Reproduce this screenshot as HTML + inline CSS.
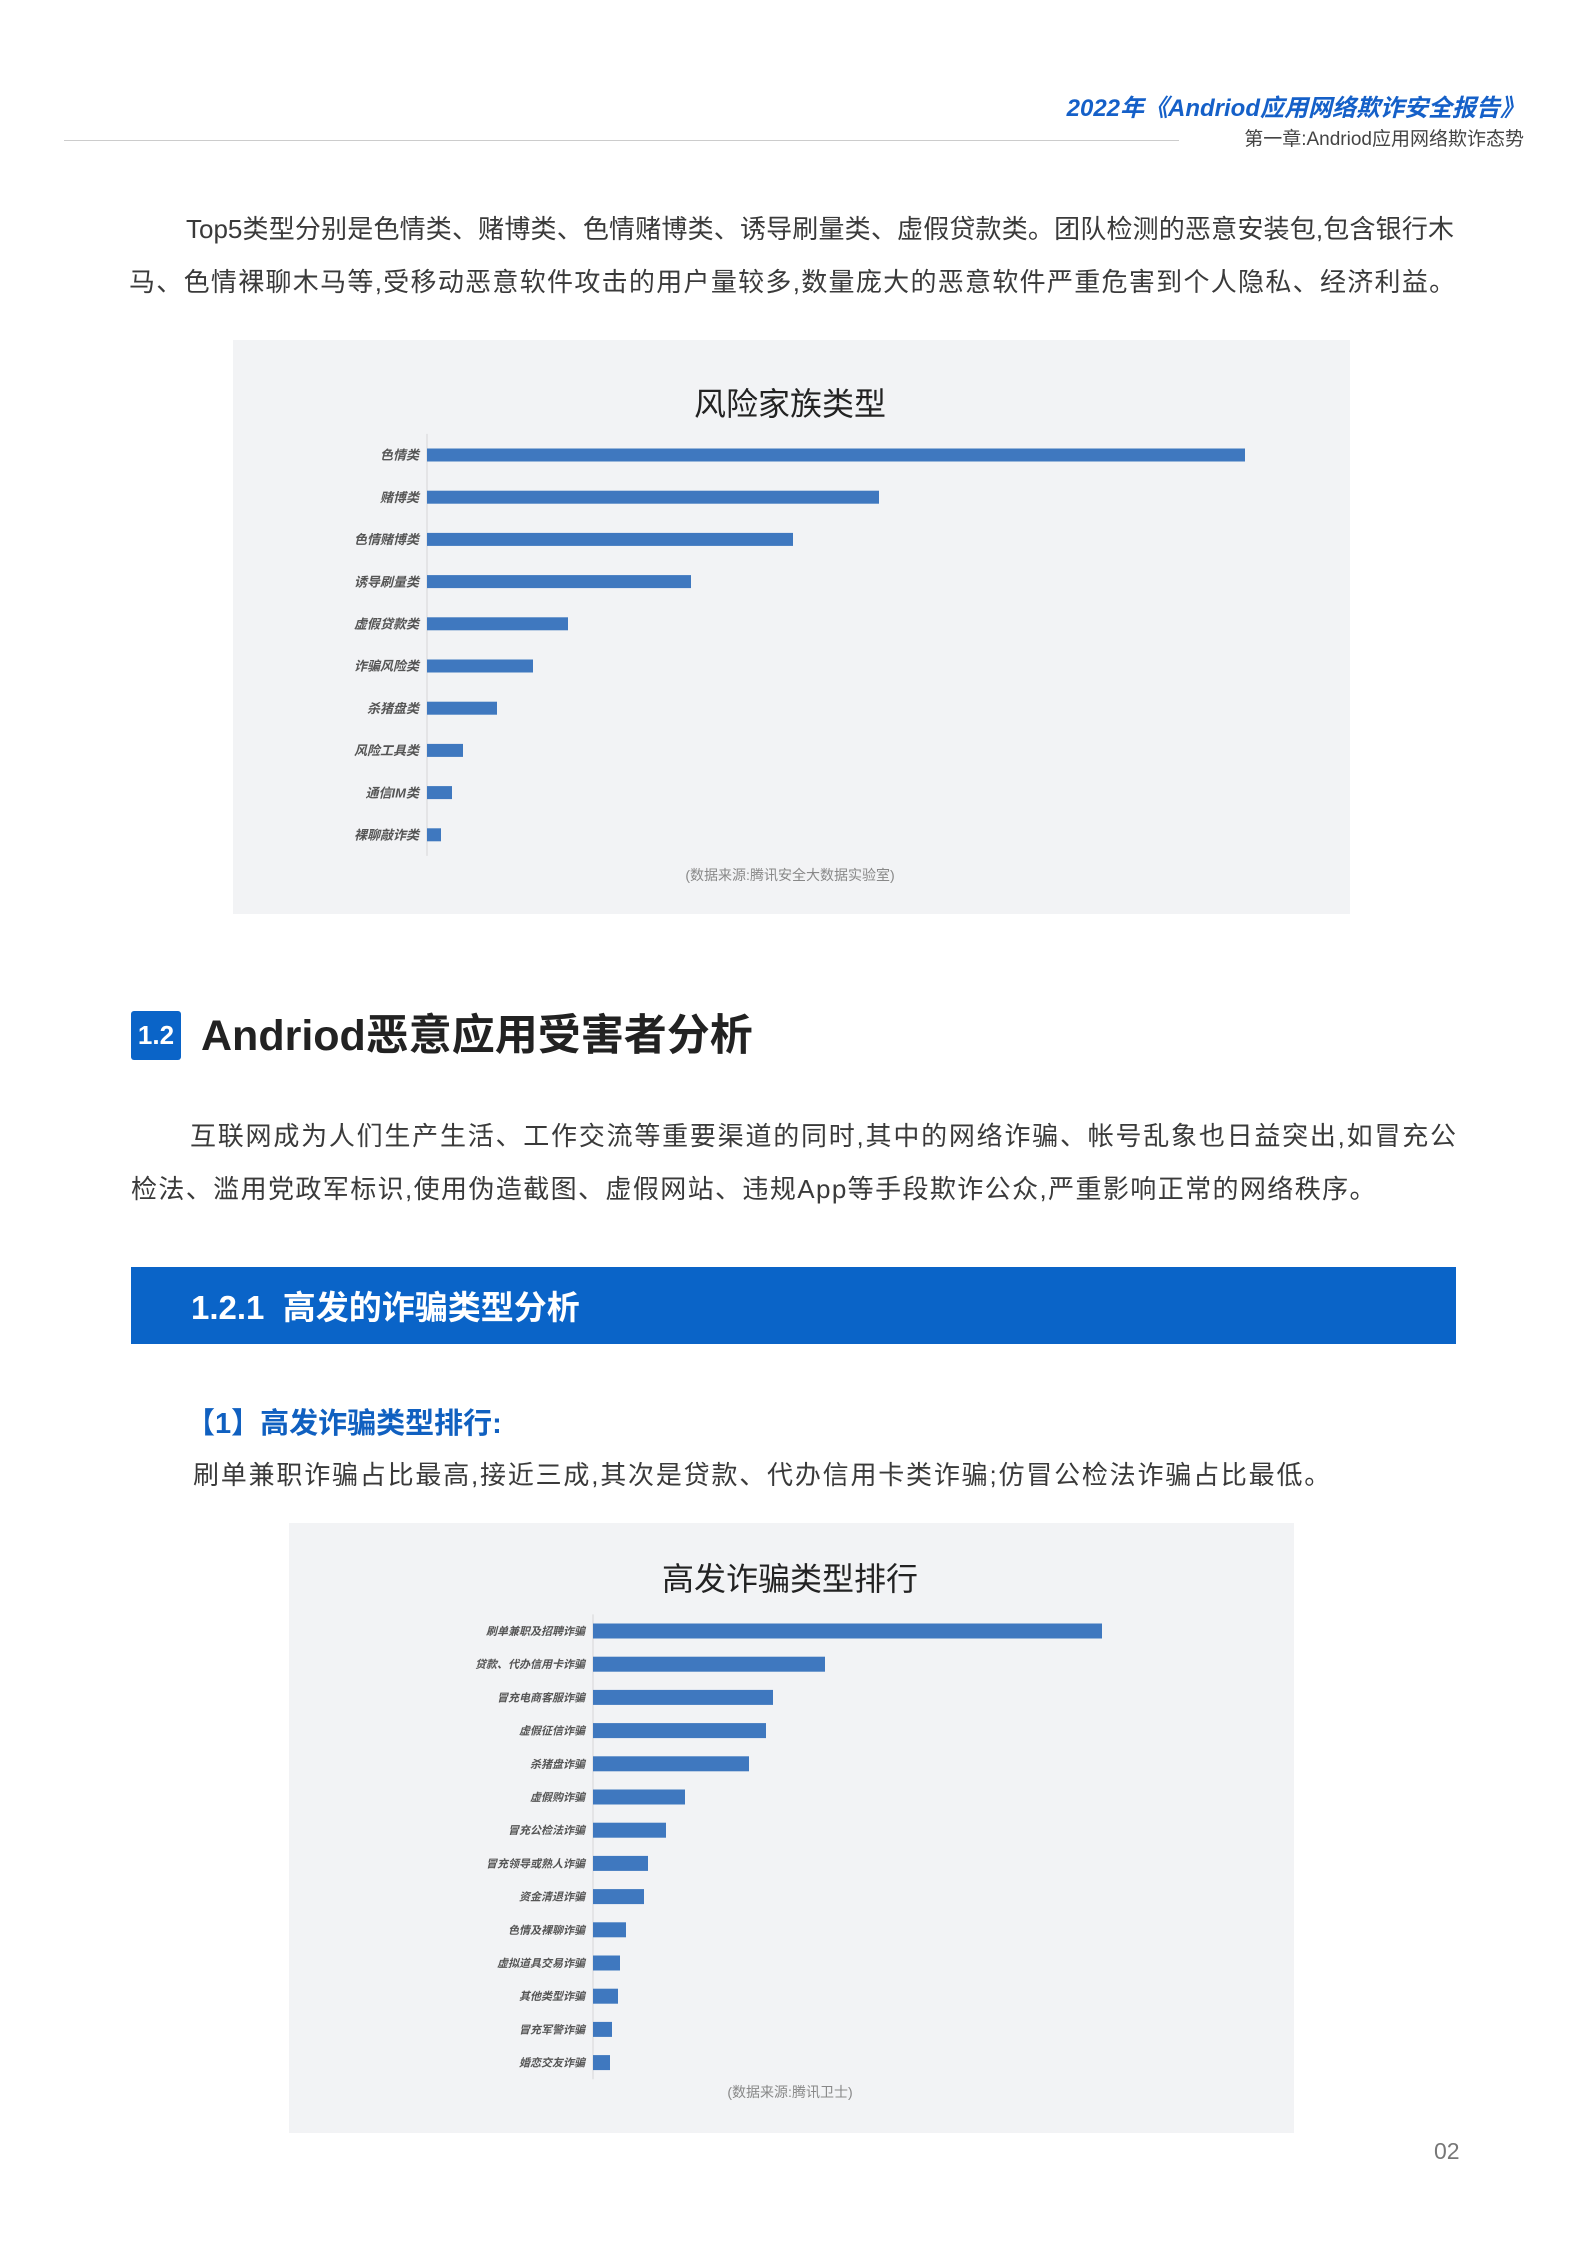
<!DOCTYPE html>
<html><head><meta charset="utf-8">
<style>
body{margin:0;width:1586px;height:2244px;background:#fff;position:relative;font-family:"Liberation Sans","Noto Sans CJK SC",sans-serif;overflow:hidden}
.a{position:absolute;white-space:nowrap}
.ln{position:absolute;font-size:26px;color:#3a3a3a;line-height:36px;white-space:nowrap}
.j{text-align:justify;text-align-last:justify;white-space:normal;overflow:hidden;height:36px}
.box{position:absolute;background:#f2f3f5}
#c1{z-index:2}
</style></head><body>
<div class="a" style="right:62px;top:88px;font-size:24px;font-weight:bold;font-style:italic;color:#1560c8">2022年《Andriod应用网络欺诈安全报告》</div>
<div class="a" style="right:62px;top:124px;font-size:19px;color:#444">第一章:Andriod应用网络欺诈态势</div>
<div class="a" style="left:64px;top:140px;width:1115px;height:1px;background:#ccc"></div>

<div>
<div class="ln j" style="left:186px;top:211px;width:1268px">Top5类型分别是色情类、赌博类、色情赌博类、诱导刷量类、虚假贷款类。团队检测的恶意安装包,包含银行木</div>
<div class="ln" style="left:129px;top:264px;letter-spacing:1.3px">马、色情裸聊木马等,受移动恶意软件攻击的用户量较多,数量庞大的恶意软件严重危害到个人隐私、经济利益。</div>
</div>

<div class="box" style="left:233px;top:340px;width:1117px;height:574px"></div>

<div class="a" style="left:131px;top:1011px;width:50px;height:49px;background:#0a64c8;color:#fff;font-size:26px;font-weight:bold;line-height:49px;text-align:center;border-radius:3px">1.2</div>
<div class="a" style="left:201px;top:1008px;font-size:43px;font-weight:bold;color:#222;line-height:56px">Andriod恶意应用受害者分析</div>

<div>
<div class="ln j" style="left:190px;top:1118px;width:1266px">互联网成为人们生产生活、工作交流等重要渠道的同时,其中的网络诈骗、帐号乱象也日益突出,如冒充公</div>
<div class="ln" style="left:131px;top:1171px;letter-spacing:1.4px">检法、滥用党政军标识,使用伪造截图、虚假网站、违规App等手段欺诈公众,严重影响正常的网络秩序。</div>
</div>

<div class="a" style="left:131px;top:1267px;width:1325px;height:77px;background:#0a64c8"></div>
<div class="a" style="left:191px;top:1286px;font-size:33px;font-weight:bold;color:#fff;line-height:44px">1.2.1&nbsp; 高发的诈骗类型分析</div>

<div class="a" style="left:186px;top:1400px;font-size:29px;font-weight:bold;color:#1060c0">【1】高发诈骗类型排行:</div>
<div class="a" style="left:193px;top:1455px;font-size:26px;color:#3a3a3a;letter-spacing:1.8px">刷单兼职诈骗占比最高,接近三成,其次是贷款、代办信用卡类诈骗;仿冒公检法诈骗占比最低。</div>

<div class="box" style="left:289px;top:1523px;width:1005px;height:610px"></div>

<div class="a" style="left:1434px;top:2138px;font-size:23px;color:#777">02</div>

<svg id="c1" class="a" style="left:0;top:0" width="1586" height="2244"></svg>

<script>
const cats1=["色情类","赌博类","色情赌博类","诱导刷量类","虚假贷款类","诈骗风险类","杀猪盘类","风险工具类","通信IM类","裸聊敲诈类"];
const vals1=[818,452,366,264,141,106,70,36,25,14];
const cats2=["刷单兼职及招聘诈骗","贷款、代办信用卡诈骗","冒充电商客服诈骗","虚假征信诈骗","杀猪盘诈骗","虚假购诈骗","冒充公检法诈骗","冒充领导或熟人诈骗","资金清退诈骗","色情及裸聊诈骗","虚拟道具交易诈骗","其他类型诈骗","冒充军警诈骗","婚恋交友诈骗"];
const vals2=[509,232,180,173,156,92,73,55,51,33,27,25,19,17];
const NS="http://www.w3.org/2000/svg";
const svg=document.getElementById('c1');
function mk(tag,attrs,parent){const e=document.createElementNS(NS,tag);for(const k in attrs)e.setAttribute(k,attrs[k]);(parent||svg).appendChild(e);return e;}
function chart(o){
  const g=mk('g',{});
  
  
  const t=mk('text',{x:o.cx,y:o.titleY,'text-anchor':'middle','font-size':o.titleSize,fill:'#222','font-family':'"Liberation Sans","Noto Sans CJK SC",sans-serif'},g);
  t.textContent=o.title;
  
  
  const ax=mk('line',{x1:o.x0,x2:o.x0,y1:o.y0-o.step/2,y2:o.y0+o.step*(o.cats.length-0.5),stroke:'#d6d6d6','stroke-width':1},g);
  
  
  const xs=v=>v*o.scale;
  o.cats.forEach((c,i)=>{
    const y=o.y0+i*o.step;
    const r=mk('rect',{x:o.x0,y:y-o.bh/2,width:xs(o.vals[i]),height:o.bh,fill:'#3f78bf'},g);
    
    
    const l=mk('text',{x:o.x0-8,y:y+o.fs*0.36,'text-anchor':'end','font-size':o.fs,'font-weight':'bold','font-style':'italic',fill:'#555','font-family':'"Liberation Sans","Noto Sans CJK SC",sans-serif'},g);
    l.textContent=c;
    
    
  });
  const s=mk('text',{x:o.cx,y:o.srcY,'text-anchor':'middle','font-size':14,fill:'#888','font-family':'"Liberation Sans","Noto Sans CJK SC",sans-serif'},g);
  s.textContent=o.src;
  
  
}
chart({name:'risk-family-bars',title:'风险家族类型',cx:790,titleY:415,titleSize:32,x0:427,y0:455,step:42.2,bh:13,fs:13,scale:1,cats:cats1,vals:vals1,srcY:880,src:'(数据来源:腾讯安全大数据实验室)'});
chart({name:'fraud-type-bars',title:'高发诈骗类型排行',cx:790,titleY:1590,titleSize:32,x0:593,y0:1631,step:33.2,bh:15,fs:11,scale:1,cats:cats2,vals:vals2,srcY:2097,src:'(数据来源:腾讯卫士)'});
</script>
</body></html>
